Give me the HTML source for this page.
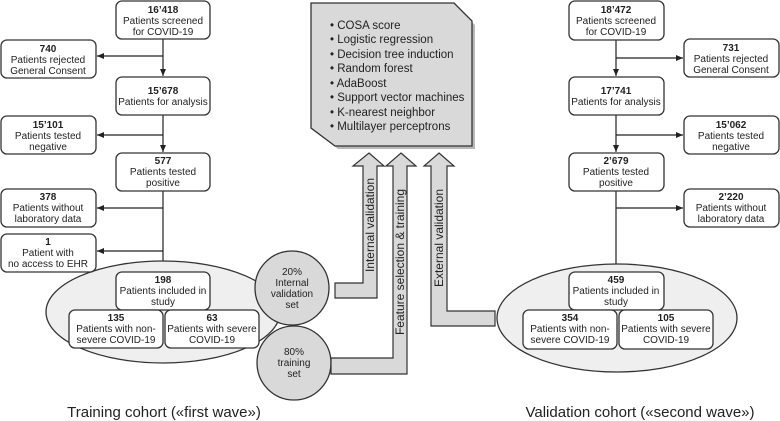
<!DOCTYPE html>
<html><head><meta charset="utf-8"><style>
html,body{margin:0;padding:0;background:#fff}
svg{display:block}
text{font-family:"Liberation Sans",sans-serif;font-size:10px;fill:#222;text-anchor:middle}
.b{font-weight:bold}
.bx{fill:#fff;stroke:#333;stroke-width:1.3}
.bg{fill:#efefef;stroke:#333;stroke-width:1.3}
.ln{stroke:#222;stroke-width:1.2;fill:none}
.ar{fill:#d9d9d9;stroke:#333;stroke-width:1.2}
</style></head><body>
<svg width="780" height="421" viewBox="0 0 780 421">
<defs><marker id="m" markerWidth="8" markerHeight="8" refX="7" refY="4" orient="auto" markerUnits="userSpaceOnUse"><path d="M0,1 L7,4 L0,7z" fill="#222"/></marker></defs>

<line class="ln" x1="163" y1="39" x2="163" y2="76" marker-end="url(#m)"/>
<line class="ln" x1="163" y1="115" x2="163" y2="152" marker-end="url(#m)"/>
<line class="ln" x1="163" y1="191" x2="163" y2="271" marker-end="url(#m)"/>
<line class="ln" x1="163" y1="56" x2="97" y2="56" marker-end="url(#m)"/>
<line class="ln" x1="163" y1="135" x2="97" y2="135" marker-end="url(#m)"/>
<line class="ln" x1="163" y1="208" x2="97" y2="208" marker-end="url(#m)"/>
<line class="ln" x1="163" y1="251" x2="97" y2="251" marker-end="url(#m)"/>

<ellipse class="bg" cx="163" cy="312" rx="117" ry="51"/>

<rect class="bx" x="116" y="1" width="94" height="38" rx="6"/>
<text class="b" x="163" y="13">16’418</text><text x="163" y="24">Patients screened</text><text x="163" y="35">for COVID-19</text>
<rect class="bx" x="1" y="40" width="95" height="38" rx="6"/>
<text class="b" x="48" y="52">740</text><text x="48" y="63">Patients rejected</text><text x="48" y="74">General Consent</text>
<rect class="bx" x="116" y="77" width="94" height="38" rx="6"/>
<text class="b" x="163" y="94">15’678</text><text x="163" y="105">Patients for analysis</text>
<rect class="bx" x="1" y="116" width="95" height="38" rx="6"/>
<text class="b" x="48" y="128">15’101</text><text x="48" y="139">Patients tested</text><text x="48" y="150">negative</text>
<rect class="bx" x="116" y="153" width="94" height="38" rx="6"/>
<text class="b" x="163" y="164">577</text><text x="163" y="175">Patients tested</text><text x="163" y="186">positive</text>
<rect class="bx" x="1" y="189" width="95" height="38" rx="6"/>
<text class="b" x="48" y="200">378</text><text x="48" y="211">Patients without</text><text x="48" y="222">laboratory data</text>
<rect class="bx" x="1" y="234" width="95" height="38" rx="6"/>
<text class="b" x="48" y="245">1</text><text x="48" y="256">Patient with</text><text x="48" y="267">no access to EHR</text>
<rect class="bx" x="116" y="272" width="94" height="38" rx="6"/>
<text class="b" x="163" y="283">198</text><text x="163" y="294">Patients included in</text><text x="163" y="305">study</text>
<rect class="bx" x="69" y="310" width="94" height="38" rx="6"/>
<text class="b" x="116" y="321">135</text><text x="116" y="332">Patients with non-</text><text x="116" y="343">severe COVID-19</text>
<rect class="bx" x="165" y="310" width="94" height="38" rx="6"/>
<text class="b" x="212" y="321">63</text><text x="212" y="332">Patients with severe</text><text x="212" y="343">COVID-19</text>

<circle cx="292" cy="288" r="37" fill="#d9d9d9" stroke="#333" stroke-width="1.3"/>
<text x="292" y="275">20%</text><text x="292" y="286">Internal</text><text x="292" y="297">validation</text><text x="292" y="308">set</text>
<circle cx="294" cy="363" r="37" fill="#d9d9d9" stroke="#333" stroke-width="1.3"/>
<text x="294" y="355">80%</text><text x="294" y="366">training</text><text x="294" y="377">set</text>

<text x="164" y="417" style="font-size:15px">Training cohort («first wave»)</text>

<path d="M314,7 L457,7 L475,25 L475,149 L338,149 L314,131Z" fill="#888" opacity="0.6"/>
<path d="M311,3 L454,3 L472,21 L472,146 L335,146 L311,128Z" fill="#d9d9d9" stroke="#333" stroke-width="1.3"/>
<text x="330" y="29" style="text-anchor:start;font-size:11.5px">•   COSA score</text>
<text x="330" y="43" style="text-anchor:start;font-size:11.5px">•   Logistic regression</text>
<text x="330" y="58" style="text-anchor:start;font-size:11.5px">•   Decision tree induction</text>
<text x="330" y="72" style="text-anchor:start;font-size:11.5px">•   Random forest</text>
<text x="330" y="87" style="text-anchor:start;font-size:11.5px">•   AdaBoost</text>
<text x="330" y="101" style="text-anchor:start;font-size:11.5px">•   Support vector machines</text>
<text x="330" y="116" style="text-anchor:start;font-size:11.5px">•   K-nearest neighbor</text>
<text x="330" y="130" style="text-anchor:start;font-size:11.5px">•   Multilayer perceptrons</text>

<path class="ar" d="M369,153 L384,166 L377,166 L377,298 L335,298 L335,283 L363,283 L363,166 L353,166Z"/>
<path class="ar" d="M401,153 L416,166 L407,166 L407,374 L331,374 L331,358 L393,358 L393,166 L386,166Z"/>
<path class="ar" d="M439,153 L454,166 L447,166 L447,311 L495,311 L495,326 L431,326 L431,166 L424,166Z"/>
<text transform="translate(374,225) rotate(-90)" style="font-size:12px">Internal validation</text>
<text transform="translate(404,262) rotate(-90)" style="font-size:12px">Feature selection &amp; training</text>
<text transform="translate(443,238) rotate(-90)" style="font-size:12px">External validation</text>

<line class="ln" x1="616" y1="40" x2="616" y2="76" marker-end="url(#m)"/>
<line class="ln" x1="616" y1="115" x2="616" y2="152" marker-end="url(#m)"/>
<line class="ln" x1="616" y1="191" x2="616" y2="271" marker-end="url(#m)"/>
<line class="ln" x1="616" y1="58" x2="683" y2="58" marker-end="url(#m)"/>
<line class="ln" x1="616" y1="135" x2="683" y2="135" marker-end="url(#m)"/>
<line class="ln" x1="616" y1="208" x2="683" y2="208" marker-end="url(#m)"/>

<ellipse class="bg" cx="617" cy="318" rx="120" ry="54"/>

<rect class="bx" x="569" y="1" width="95" height="39" rx="6"/>
<text class="b" x="616" y="13">18’472</text><text x="616" y="24">Patients screened</text><text x="616" y="35">for COVID-19</text>
<rect class="bx" x="684" y="39" width="95" height="38" rx="6"/>
<text class="b" x="731" y="51">731</text><text x="731" y="62">Patients rejected</text><text x="731" y="73">General Consent</text>
<rect class="bx" x="569" y="77" width="95" height="38" rx="6"/>
<text class="b" x="616" y="94">17’741</text><text x="616" y="105">Patients for analysis</text>
<rect class="bx" x="684" y="116" width="95" height="38" rx="6"/>
<text class="b" x="731" y="128">15’062</text><text x="731" y="139">Patients tested</text><text x="731" y="150">negative</text>
<rect class="bx" x="569" y="153" width="95" height="38" rx="6"/>
<text class="b" x="616" y="164">2’679</text><text x="616" y="175">Patients tested</text><text x="616" y="186">positive</text>
<rect class="bx" x="684" y="189" width="95" height="38" rx="6"/>
<text class="b" x="731" y="200">2’220</text><text x="731" y="211">Patients without</text><text x="731" y="222">laboratory data</text>
<rect class="bx" x="569" y="272" width="95" height="38" rx="6"/>
<text class="b" x="616" y="283">459</text><text x="616" y="294">Patients included in</text><text x="616" y="305">study</text>
<rect class="bx" x="523" y="310" width="94" height="39" rx="6"/>
<text class="b" x="570" y="321">354</text><text x="570" y="332">Patients with non-</text><text x="570" y="343">severe COVID-19</text>
<rect class="bx" x="619" y="310" width="94" height="39" rx="6"/>
<text class="b" x="666" y="321">105</text><text x="666" y="332">Patients with severe</text><text x="666" y="343">COVID-19</text>

<text x="640" y="417" style="font-size:15px">Validation cohort («second wave»)</text>
</svg>
</body></html>
